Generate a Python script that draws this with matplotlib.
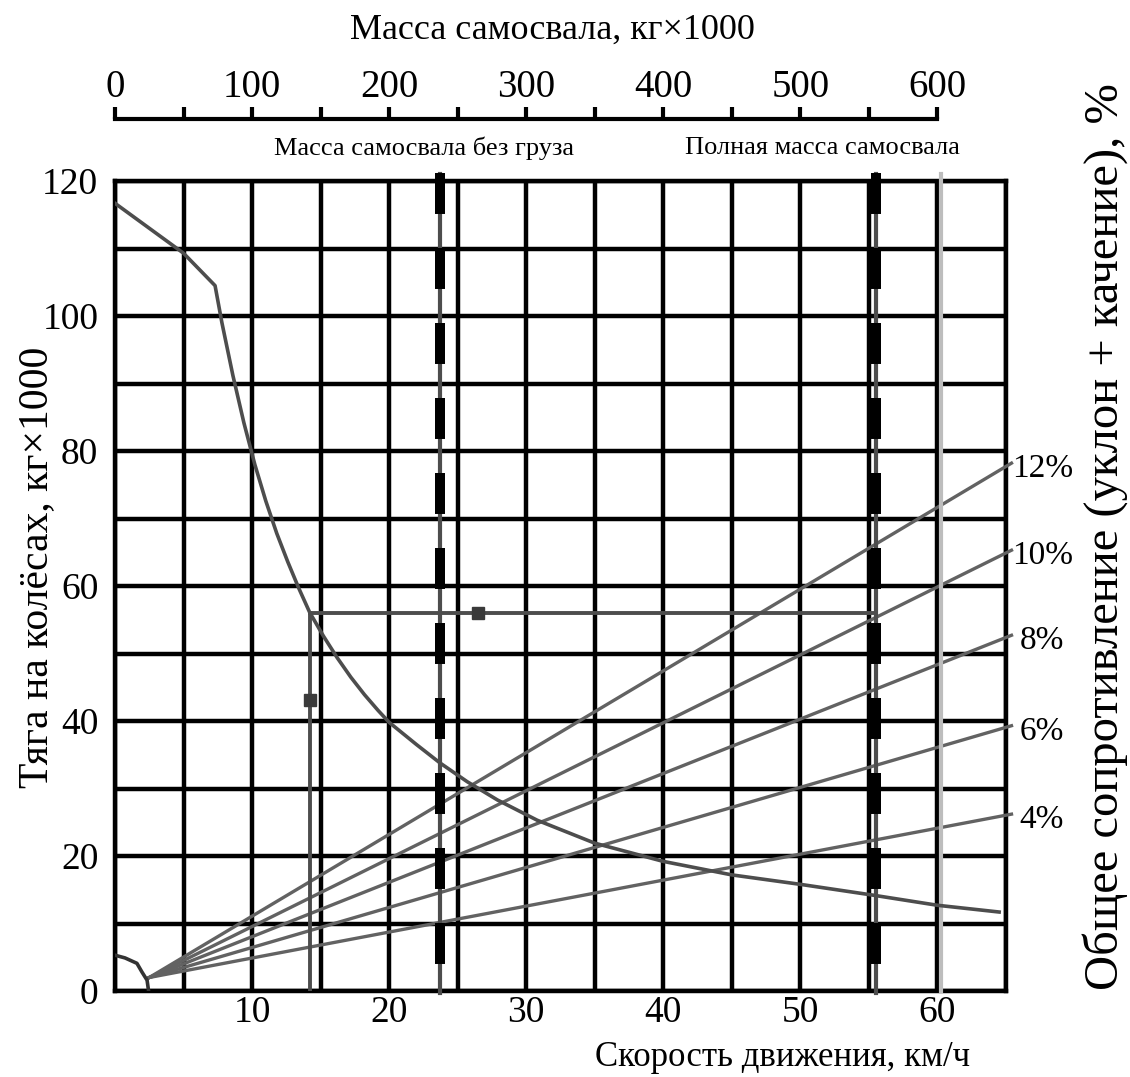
import matplotlib.pyplot as plt
import numpy as np

plt.rcParams['font.family'] = ['Liberation Serif', 'DejaVu Serif']
plt.rcParams['lines.scale_dashes'] = False

# тяговая характеристика: скорость, км/ч -> тяга на колёсах, кг x 1000
speed = [0, 5, 7.3, 7.8, 8.6, 9.4, 10.2, 11.0, 11.8, 12.6, 13.4, 14.2, 15.2, 16.2, 17.2, 18.2,
         19.2, 20, 22, 23.7, 25.7, 27.9, 30.8, 35, 40, 45, 50, 55.3, 60, 64.5]
rimpull = [116.7, 109.3, 104.5, 99.0, 91.2, 84.2, 78.0, 72.6, 67.8, 63.6, 59.7, 56.1, 52.6, 49.4, 46.5, 43.9,
           41.55, 39.8, 36.5, 33.8, 31.0, 28.3, 25.3, 21.9, 19.2, 17.2, 15.8, 14.2, 12.7, 11.7]

# участок трогания у начала координат
speed_low = [0.0, 0.73, 1.6, 1.97, 2.34, 2.45]
rimpull_low = [5.3, 4.9, 4.1, 2.8, 1.6, 0.0]

# линии сопротивления: общая точка и значения у правого края (65 км/ч)
grades = ['4%', '6%', '8%', '10%', '12%']
grade_start = [2.5, 2.0]
grade_end = [25.9, 39.0, 52.4, 65.0, 77.9]

# массы самосвала, кг x 1000
mass_empty = 237
mass_full = 555
mass_ticks = [0, 100, 200, 300, 400, 500, 600]

# построение по графику
read_speed = 14.2
read_force = 56
read_marks_x = [14.2, 26.5]
read_marks_y = [43.1, 56]

fig = plt.figure(figsize=(11.3, 10.77), dpi=100)
ax = fig.add_axes([115 / 1130, 86 / 1077, 891 / 1130, 810 / 1077])

ax.set_xlim(0, 65)
ax.set_ylim(0, 120)
ax.set_xticks([10, 20, 30, 40, 50, 60])
ax.set_xticks(np.arange(0, 66, 5), minor=True)
ax.set_yticks([0, 20, 40, 60, 80, 100, 120])
ax.set_yticks(np.arange(0, 121, 10), minor=True)
ax.grid(True, which='both', color='black', linewidth=3.2)
ax.set_axisbelow(True)
for sp in ax.spines.values():
    sp.set_linewidth(3.2)
ax.tick_params(which='both', length=0)
ax.tick_params(axis='x', labelsize=27, pad=3)
ax.tick_params(axis='y', labelsize=27, pad=12)

grey = '#4d4d4d'
# тяговая кривая
ax.plot(speed, rimpull, color=grey, lw=2.6, zorder=4)
ax.plot(speed_low, rimpull_low, color='#333333', lw=2.6, zorder=4)

# линии уклонов
for name, end in zip(grades, grade_end):
    ax.plot([grade_start[0], 65.4], [grade_start[1], end + 0.3], color='#626262', lw=2.4,
            zorder=3, clip_on=False)
    x_lab = 65.45 if len(name) == 3 else 66.0
    ax.text(x_lab, end, name, fontsize=24, va='center_baseline', ha='left')

# вертикальные линии масс без груза и с грузом
for m in [mass_empty, mass_full]:
    x = m / 10
    ax.plot([x, x], [-0.3, 121.0], color=grey, lw=3.0, zorder=5, clip_on=False)
    ax.plot([x, x], [121.2, 0], color='black', lw=7.2, dashes=[29.5, 24.5],
            zorder=6, clip_on=False)

# линия 60 км/ч
ax.plot([60.25, 60.25], [0, 121.0], color='#bdbdbd', lw=3.0, zorder=3, clip_on=False)

# считывание по графику
ax.plot([read_speed, read_speed], [0, read_force], color=grey, lw=2.8, zorder=4)
ax.plot([read_speed, mass_full / 10], [read_force, read_force], color=grey, lw=2.8, zorder=4)
ax.plot(read_marks_x, read_marks_y, 's', color='#3a3a3a', ms=8, zorder=7)

# верхняя шкала массы
axt = ax.twiny()
axt.set_xlim(0, 650)
axt.set_xticks(mass_ticks)
axt.set_xticks(np.arange(0, 601, 50), minor=True)
for name, sp in axt.spines.items():
    if name != 'top':
        sp.set_visible(False)
axt.spines['top'].set_position(('outward', 45))
axt.spines['top'].set_bounds(0, 600)
axt.spines['top'].set_linewidth(3.0)
axt.tick_params(which='both', direction='out', length=9, width=3.0, labelsize=28, pad=0)

fig.text(552 / 1130, 1 - 30 / 1077, 'Масса самосвала, кг×1000', fontsize=26,
         ha='center', va='center')
fig.text(424 / 1130, 1 - 148 / 1077, 'Масса самосвала без груза', fontsize=19,
         ha='center', va='center')
fig.text(822 / 1130, 1 - 148 / 1077, 'Полная масса самосвала', fontsize=19,
         ha='center', va='center')
fig.text(37 / 1130, 1 - 567 / 1077, 'Тяга на колёсах, кг×1000', fontsize=30,
         rotation=90, ha='center', va='center')
fig.text(1105 / 1130, 1 - 537 / 1077, 'Общее сопротивление (уклон + качение), %',
         fontsize=35, rotation=90, ha='center', va='center')
fig.text(783 / 1130, 1 - 1058 / 1077, 'Скорость движения, км/ч', fontsize=25,
         ha='center', va='center')

fig.savefig('out.png', dpi=100)
